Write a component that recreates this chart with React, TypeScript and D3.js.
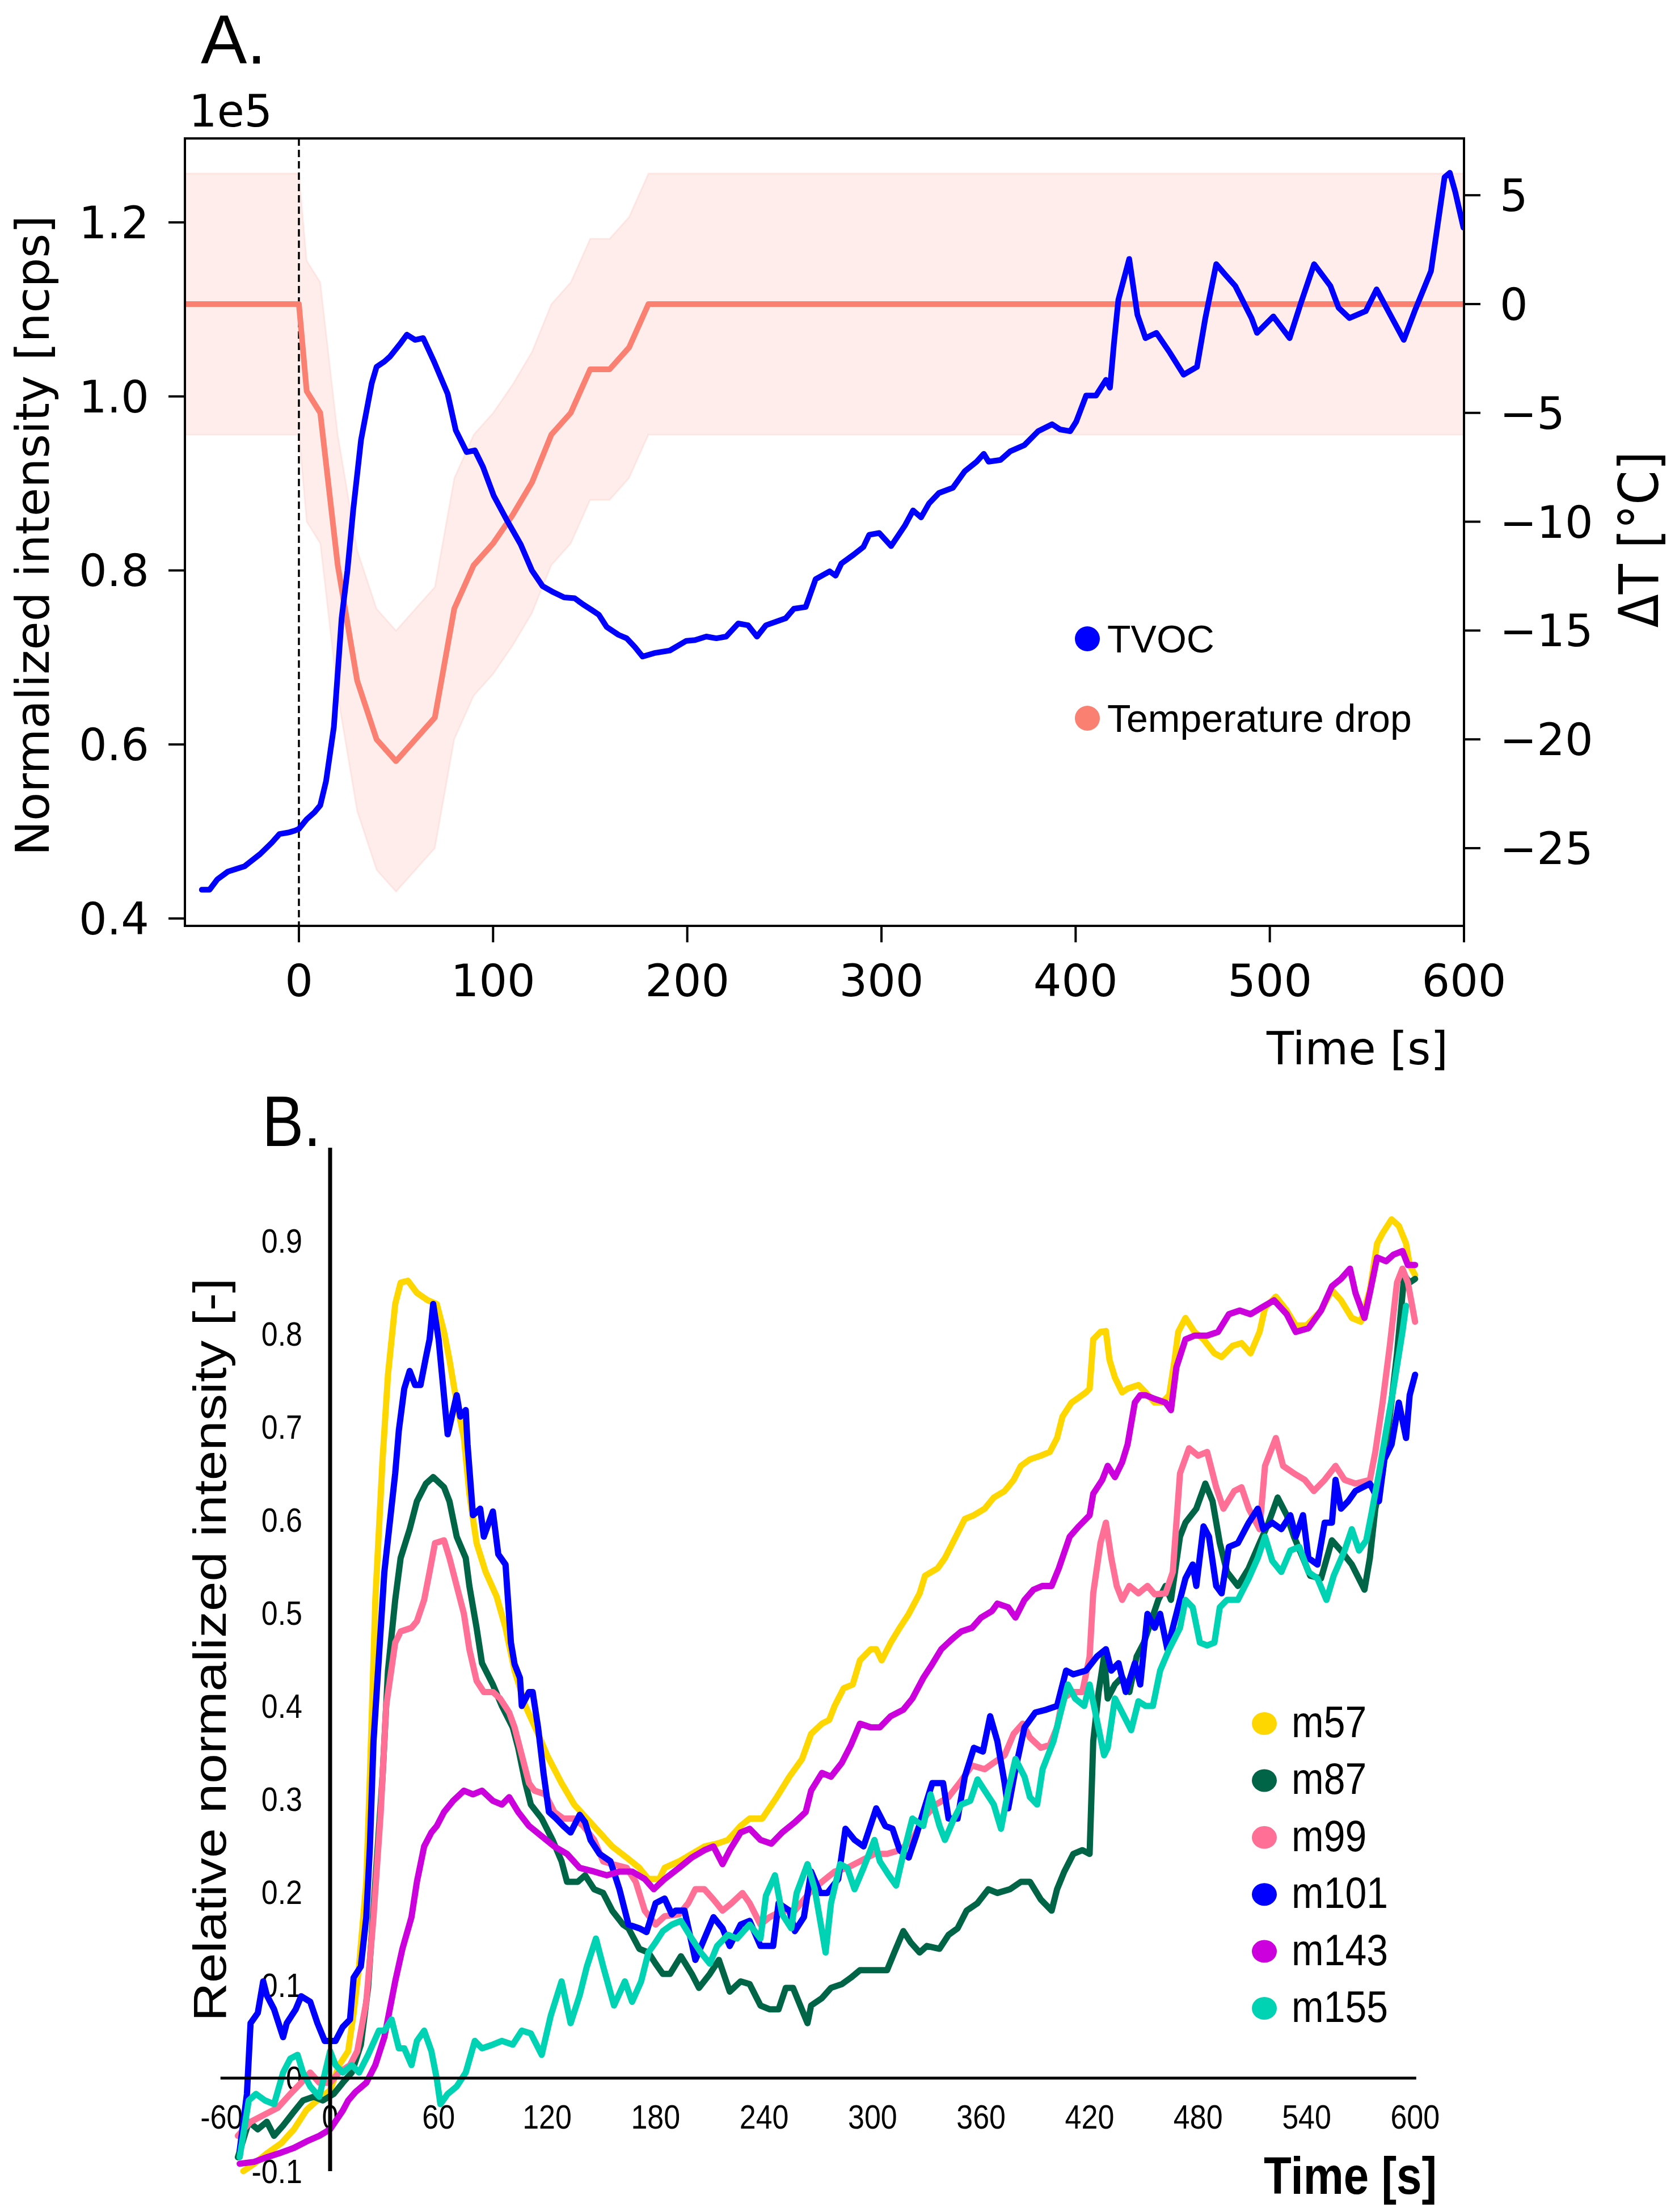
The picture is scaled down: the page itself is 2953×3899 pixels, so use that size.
import React from 'react'
import * as d3 from 'd3'

// ---------- panel A data ----------
// TVOC normalized intensity, [time s, value in 1e5 ncps]
const tvoc: [number, number][] = [
  [-50, 0.433], [-46, 0.433], [-42, 0.445], [-36.5, 0.454], [-28, 0.46], [-20, 0.474], [-14, 0.487],
  [-10, 0.497], [-5, 0.499], [-2, 0.501], [0, 0.503], [4, 0.514], [8, 0.522], [11, 0.53], [14, 0.558],
  [18, 0.62], [22, 0.745], [25, 0.8], [28, 0.87], [32, 0.95], [37.5, 1.015], [40, 1.034], [44, 1.04],
  [47, 1.046], [52, 1.06], [55.6, 1.071], [59.8, 1.065], [64, 1.067], [69.6, 1.04], [76.6, 1.003],
  [80.8, 0.961], [86.4, 0.936], [90.6, 0.938], [94.8, 0.919], [100.3, 0.886], [107.3, 0.857],
  [114.2, 0.83], [120, 0.8], [125.5, 0.782], [131, 0.775], [136.6, 0.769], [142, 0.768], [146.3, 0.761],
  [150.5, 0.755], [154.5, 0.749], [158.5, 0.735], [164.6, 0.726], [168.8, 0.722], [173, 0.712],
  [177, 0.701], [183, 0.705], [191, 0.708], [199.4, 0.719], [204, 0.72], [209.8, 0.724], [215, 0.722],
  [220, 0.724], [226.2, 0.739], [231.3, 0.737], [235.9, 0.724], [240.5, 0.737], [250.7, 0.745],
  [254.9, 0.756], [261, 0.758], [266.1, 0.79], [273.3, 0.799], [276.4, 0.794], [279.4, 0.808],
  [285.6, 0.818], [290.7, 0.827], [293.7, 0.841], [298.9, 0.843], [305, 0.828], [312.2, 0.852],
  [316.3, 0.869], [320.4, 0.861], [324.5, 0.877], [329.6, 0.889], [336.8, 0.895], [342.9, 0.914],
  [349, 0.925], [352.7, 0.934], [355.2, 0.925], [361.3, 0.927], [366.4, 0.937], [373.6, 0.944],
  [380.7, 0.96], [387.9, 0.968], [392, 0.962], [397.2, 0.96], [400.3, 0.971], [405.4, 1.001],
  [410.5, 1.001], [415.6, 1.019], [417.7, 1.01], [419.7, 1.06], [422, 1.111], [427.6, 1.158],
  [431.8, 1.094], [436, 1.067], [441.6, 1.073], [448.6, 1.05], [455.6, 1.025], [462.5, 1.034],
  [466.8, 1.09], [472.4, 1.152], [477, 1.14], [482.2, 1.127], [490.6, 1.09], [493.4, 1.073],
  [501.8, 1.092], [510.2, 1.067], [515.8, 1.106], [522.8, 1.152], [531.2, 1.127], [535.4, 1.102],
  [541, 1.09], [549.4, 1.098], [555, 1.123], [562, 1.094], [569, 1.065], [574.6, 1.098], [583, 1.144],
  [590, 1.252], [592.7, 1.257], [595.5, 1.235], [599.7, 1.194],
]

// temperature drop, [time s, dT °C]
const tempDrop: [number, number][] = [
  [-58.7, 0], [0, 0], [4, -4], [11, -5], [20, -12], [30, -17.3], [40, -20], [50, -21], [60, -20],
  [70, -19], [80, -14], [90, -12], [100, -11], [110, -9.7], [120, -8.2], [130, -6], [140, -5],
  [150, -3], [160, -3], [170, -2], [180, 0], [600, 0],
]
const TEMP_SD = 6

const tvocTicks = [0.4, 0.6, 0.8, 1.0, 1.2]
const dtTicks = [5, 0, -5, -10, -15, -20, -25]
const timeTicksA = [0, 100, 200, 300, 400, 500, 600]

// ---------- panel B data ----------
const m57: [number, number][] = [
  [-48, -0.1], [-42, -0.092], [-35, -0.081], [-27, -0.07], [-20, -0.055], [-13, -0.034], [-6, -0.022],
  [0, -0.013], [5, 0.014], [10, 0.029], [13, 0.07], [16, 0.12], [20, 0.211], [22, 0.324], [25, 0.514],
  [29, 0.665], [32, 0.756], [36, 0.832], [39, 0.855], [43, 0.857], [48, 0.844], [54, 0.836], [59, 0.832],
  [63, 0.802], [66, 0.772], [70, 0.726], [74, 0.688], [77, 0.628], [81, 0.575], [86, 0.544], [92, 0.518],
  [97, 0.484], [102, 0.438], [108, 0.4], [115, 0.37], [120, 0.347], [128, 0.317], [135, 0.294],
  [142, 0.279], [149, 0.264], [156, 0.249], [164, 0.237], [171, 0.226], [176, 0.214], [182, 0.214],
  [185, 0.226], [193, 0.233], [200, 0.241], [207, 0.249], [214, 0.252], [220, 0.256], [227, 0.271],
  [232, 0.279], [239, 0.279], [247, 0.302], [254, 0.324], [261, 0.343], [266, 0.37], [272, 0.381],
  [276, 0.385], [279, 0.4], [284, 0.419], [289, 0.423], [293, 0.449], [299, 0.461], [302, 0.461],
  [305, 0.449], [310, 0.468], [315, 0.484], [320, 0.499], [326, 0.521], [329, 0.54], [336, 0.548],
  [340, 0.559], [345, 0.578], [351, 0.601], [356, 0.605], [362, 0.612], [367, 0.624], [373, 0.631],
  [378, 0.643], [382, 0.658], [387, 0.665], [393, 0.669], [398, 0.673], [402, 0.688], [405, 0.711],
  [410, 0.726], [413, 0.73], [418, 0.737], [420, 0.741], [422, 0.794], [426, 0.802], [429, 0.803],
  [431, 0.772], [434, 0.753], [438, 0.737], [441, 0.741], [447, 0.745], [451, 0.737], [456, 0.726],
  [460, 0.726], [464, 0.734], [467, 0.772], [469, 0.802], [473, 0.817], [478, 0.802], [483, 0.794],
  [489, 0.779], [493, 0.775], [499, 0.787], [504, 0.79], [509, 0.779], [514, 0.802], [517, 0.828],
  [523, 0.84], [529, 0.825], [534, 0.809], [540, 0.809], [548, 0.825], [554, 0.847], [559, 0.836],
  [565, 0.817], [570, 0.813], [575, 0.847], [579, 0.897], [582, 0.908], [587, 0.923], [591, 0.916],
  [595, 0.897], [597, 0.874], [600, 0.863],
]
const m87: [number, number][] = [
  [-51, -0.085], [-45, -0.047], [-40, -0.055], [-35, -0.047], [-31, -0.062], [-26, -0.051], [-20, -0.036],
  [-15, -0.024], [-9, -0.02], [-4, -0.024], [2, -0.017], [7, -0.005], [12, 0.006], [17, 0.036], [21, 0.097],
  [25, 0.211], [29, 0.324], [32, 0.438], [36, 0.514], [39, 0.559], [44, 0.59], [48, 0.62], [53, 0.639],
  [57, 0.646], [63, 0.635], [66, 0.62], [70, 0.582], [75, 0.559], [77, 0.529], [81, 0.484], [84, 0.446],
  [90, 0.423], [95, 0.4], [101, 0.377], [104, 0.355], [108, 0.317], [111, 0.294], [117, 0.279],
  [123, 0.256], [128, 0.233], [131, 0.211], [137, 0.211], [141, 0.218], [146, 0.203], [151, 0.199],
  [156, 0.18], [162, 0.165], [165, 0.161], [171, 0.139], [176, 0.135], [180, 0.123], [184, 0.112],
  [188, 0.112], [194, 0.131], [200, 0.112], [204, 0.097], [210, 0.112], [215, 0.127], [221, 0.093],
  [227, 0.104], [232, 0.101], [238, 0.078], [243, 0.074], [248, 0.074], [252, 0.097], [256, 0.097],
  [260, 0.078], [264, 0.059], [266, 0.078], [272, 0.086], [277, 0.097], [283, 0.101], [288, 0.108],
  [293, 0.116], [301, 0.116], [308, 0.116], [312, 0.135], [317, 0.158], [321, 0.146], [326, 0.135],
  [330, 0.142], [337, 0.139], [342, 0.154], [347, 0.161], [352, 0.18], [358, 0.188], [364, 0.203],
  [369, 0.199], [376, 0.203], [382, 0.211], [387, 0.211], [393, 0.192], [399, 0.18], [402, 0.203],
  [406, 0.222], [411, 0.241], [416, 0.245], [420, 0.241], [422, 0.362], [425, 0.415], [428, 0.453],
  [430, 0.408], [434, 0.423], [438, 0.431], [442, 0.415], [446, 0.453], [450, 0.468], [454, 0.491],
  [458, 0.514], [462, 0.529], [465, 0.514], [470, 0.582], [473, 0.597], [479, 0.612], [484, 0.639],
  [488, 0.62], [492, 0.575], [496, 0.544], [502, 0.529], [508, 0.548], [514, 0.575], [519, 0.597],
  [524, 0.624], [529, 0.605], [533, 0.582], [538, 0.559], [542, 0.54], [548, 0.537], [554, 0.578],
  [559, 0.567], [565, 0.552], [572, 0.525], [575, 0.559], [578, 0.612], [582, 0.65], [586, 0.711],
  [590, 0.779], [594, 0.863], [597, 0.855], [600, 0.859],
]
const m99: [number, number][] = [
  [-51, -0.062], [-44, -0.047], [-36, -0.039], [-29, -0.032], [-22, -0.017], [-16, -0.005], [-11, 0.006],
  [-6, -0.005], [0, -0.005], [5, 0.006], [11, 0.014], [15, 0.029], [20, 0.082], [24, 0.173], [28, 0.286],
  [31, 0.4], [36, 0.468], [39, 0.48], [45, 0.484], [48, 0.491], [52, 0.514], [55, 0.544], [58, 0.575],
  [63, 0.578], [66, 0.559], [70, 0.529], [74, 0.499], [77, 0.461], [81, 0.427], [85, 0.415], [90, 0.415],
  [94, 0.408], [99, 0.393], [102, 0.377], [106, 0.347], [110, 0.317], [113, 0.309], [119, 0.305],
  [124, 0.286], [129, 0.279], [135, 0.279], [140, 0.271], [146, 0.256], [151, 0.233], [156, 0.23],
  [164, 0.226], [169, 0.211], [174, 0.18], [180, 0.165], [185, 0.174], [193, 0.176], [198, 0.188],
  [202, 0.203], [207, 0.203], [212, 0.192], [217, 0.18], [222, 0.188], [228, 0.199], [232, 0.188],
  [238, 0.165], [243, 0.173], [250, 0.18], [257, 0.18], [265, 0.199], [272, 0.211], [279, 0.222],
  [286, 0.226], [293, 0.233], [301, 0.241], [308, 0.241], [315, 0.245], [322, 0.256], [328, 0.279],
  [335, 0.294], [342, 0.302], [348, 0.317], [355, 0.336], [362, 0.332], [367, 0.339], [373, 0.347],
  [378, 0.37], [383, 0.381], [387, 0.366], [393, 0.355], [398, 0.358], [402, 0.377], [405, 0.408],
  [411, 0.415], [416, 0.415], [420, 0.453], [422, 0.521], [426, 0.575], [429, 0.597], [432, 0.559],
  [435, 0.529], [438, 0.514], [442, 0.529], [447, 0.521], [452, 0.529], [456, 0.52], [462, 0.521],
  [466, 0.544], [470, 0.65], [475, 0.677], [480, 0.669], [485, 0.673], [490, 0.635], [494, 0.612],
  [500, 0.631], [504, 0.635], [508, 0.612], [514, 0.59], [517, 0.658], [523, 0.688], [527, 0.658],
  [533, 0.65], [539, 0.643], [544, 0.631], [550, 0.643], [556, 0.658], [561, 0.643], [567, 0.639],
  [575, 0.643], [578, 0.673], [582, 0.726], [586, 0.787], [590, 0.855], [593, 0.87], [596, 0.855],
  [600, 0.813],
]
const m101: [number, number][] = [
  [-50, -0.078], [-46, -0.017], [-44, 0.059], [-40, 0.07], [-37, 0.104], [-35, 0.089], [-31, 0.074],
  [-26, 0.044], [-24, 0.059], [-19, 0.074], [-16, 0.088], [-11, 0.082], [-7, 0.059], [-3, 0.04], [3, 0.04],
  [7, 0.055], [11, 0.063], [13, 0.108], [17, 0.12], [20, 0.173], [22, 0.248], [24, 0.362], [27, 0.453],
  [30, 0.544], [36, 0.65], [38, 0.696], [41, 0.741], [44, 0.76], [47, 0.745], [50, 0.745], [53, 0.775],
  [55, 0.794], [57, 0.832], [60, 0.794], [65, 0.692], [66, 0.7], [70, 0.734], [72, 0.711], [75, 0.718],
  [76, 0.681], [79, 0.605], [83, 0.612], [85, 0.582], [90, 0.609], [93, 0.563], [97, 0.552], [100, 0.468],
  [102, 0.445], [105, 0.43], [106, 0.4], [110, 0.415], [112, 0.415], [115, 0.377], [118, 0.328],
  [121, 0.286], [125, 0.279], [129, 0.271], [133, 0.264], [138, 0.283], [141, 0.275], [144, 0.256],
  [149, 0.241], [155, 0.233], [160, 0.203], [165, 0.165], [171, 0.161], [175, 0.157], [180, 0.188],
  [185, 0.193], [189, 0.176], [191, 0.18], [196, 0.18], [202, 0.127], [207, 0.15], [212, 0.173],
  [217, 0.161], [221, 0.142], [227, 0.165], [232, 0.169], [238, 0.142], [245, 0.142], [248, 0.188],
  [254, 0.18], [257, 0.158], [262, 0.173], [266, 0.222], [271, 0.199], [275, 0.199], [281, 0.214],
  [285, 0.268], [290, 0.256], [295, 0.249], [302, 0.29], [307, 0.271], [311, 0.268], [315, 0.245],
  [320, 0.237], [324, 0.26], [328, 0.286], [333, 0.317], [339, 0.317], [342, 0.279], [347, 0.279],
  [351, 0.324], [356, 0.355], [361, 0.351], [365, 0.389], [369, 0.362], [373, 0.317], [375, 0.29],
  [379, 0.332], [384, 0.377], [390, 0.393], [396, 0.396], [402, 0.4], [407, 0.438], [411, 0.434],
  [418, 0.438], [424, 0.453], [429, 0.461], [432, 0.438], [436, 0.446], [440, 0.415], [445, 0.446],
  [448, 0.423], [452, 0.499], [456, 0.484], [459, 0.499], [463, 0.461], [468, 0.499], [473, 0.537],
  [477, 0.552], [479, 0.529], [483, 0.593], [486, 0.582], [490, 0.529], [493, 0.521], [497, 0.571],
  [502, 0.575], [508, 0.597], [513, 0.612], [516, 0.59], [521, 0.597], [526, 0.59], [531, 0.605],
  [534, 0.582], [538, 0.605], [541, 0.559], [546, 0.552], [550, 0.597], [554, 0.597], [556, 0.643],
  [559, 0.612], [563, 0.62], [567, 0.631], [571, 0.635], [575, 0.639], [580, 0.62], [583, 0.665],
  [587, 0.681], [591, 0.726], [595, 0.688], [597, 0.734], [600, 0.756],
]
const m143: [number, number][] = [
  [-50, -0.092], [-42, -0.09], [-35, -0.085], [-27, -0.08], [-20, -0.075], [-13, -0.068], [-6, -0.062],
  [0, -0.055], [7, -0.035], [10, -0.024], [14, -0.015], [20, -0.005], [25, 0.014], [30, 0.044], [36, 0.104],
  [40, 0.139], [45, 0.173], [48, 0.211], [52, 0.249], [56, 0.264], [59, 0.271], [63, 0.286], [68, 0.298],
  [74, 0.309], [79, 0.305], [84, 0.309], [90, 0.298], [95, 0.294], [99, 0.302], [104, 0.286], [110, 0.271],
  [117, 0.26], [124, 0.249], [131, 0.241], [138, 0.226], [146, 0.222], [153, 0.218], [160, 0.222],
  [167, 0.222], [174, 0.214], [179, 0.203], [185, 0.214], [193, 0.226], [200, 0.237], [207, 0.245],
  [212, 0.249], [217, 0.23], [221, 0.245], [227, 0.264], [232, 0.268], [238, 0.256], [244, 0.252],
  [250, 0.264], [257, 0.275], [263, 0.286], [266, 0.309], [272, 0.328], [277, 0.324], [283, 0.339],
  [288, 0.358], [293, 0.381], [299, 0.377], [304, 0.377], [310, 0.389], [317, 0.396], [322, 0.408],
  [328, 0.43], [333, 0.445], [338, 0.461], [344, 0.472], [349, 0.48], [355, 0.484], [360, 0.495],
  [366, 0.502], [369, 0.51], [375, 0.506], [379, 0.495], [384, 0.514], [389, 0.525], [394, 0.529],
  [399, 0.529], [403, 0.548], [409, 0.582], [414, 0.593], [420, 0.605], [422, 0.628], [427, 0.643],
  [430, 0.658], [434, 0.646], [438, 0.662], [441, 0.681], [445, 0.726], [448, 0.734], [451, 0.734],
  [456, 0.73], [462, 0.726], [465, 0.718], [468, 0.764], [473, 0.794], [478, 0.798], [485, 0.798],
  [491, 0.802], [497, 0.821], [503, 0.825], [509, 0.821], [515, 0.828], [522, 0.836], [529, 0.821],
  [534, 0.802], [541, 0.806], [548, 0.825], [554, 0.851], [559, 0.859], [564, 0.87], [567, 0.844],
  [572, 0.817], [575, 0.844], [579, 0.882], [584, 0.878], [588, 0.885], [593, 0.889], [596, 0.874],
  [600, 0.874],
]
const m155: [number, number][] = [
  [-50, -0.085], [-45, -0.024], [-41, -0.017], [-36, -0.024], [-31, -0.028], [-26, 0.006], [-22, 0.021],
  [-18, 0.025], [-15, 0.006], [-11, -0.009], [-6, -0.02], [0, 0.029], [3, 0.014], [7, 0.006], [12, 0.014],
  [16, 0.006], [21, 0.025], [27, 0.051], [30, 0.051], [34, 0.063], [38, 0.032], [41, 0.032], [45, 0.014],
  [48, 0.04], [52, 0.051], [56, 0.029], [59, -0.001], [61, -0.028], [65, -0.017], [70, -0.009], [75, 0.006],
  [80, 0.04], [84, 0.032], [90, 0.036], [95, 0.04], [101, 0.036], [106, 0.051], [111, 0.048], [117, 0.025],
  [122, 0.067], [128, 0.104], [133, 0.059], [138, 0.089], [142, 0.12], [147, 0.15], [151, 0.12],
  [157, 0.078], [163, 0.104], [167, 0.082], [172, 0.104], [176, 0.135], [180, 0.146], [184, 0.158],
  [189, 0.165], [194, 0.169], [200, 0.15], [205, 0.135], [210, 0.123], [214, 0.142], [220, 0.154],
  [225, 0.15], [232, 0.165], [238, 0.15], [241, 0.196], [246, 0.218], [250, 0.176], [255, 0.161],
  [258, 0.199], [264, 0.23], [268, 0.203], [272, 0.158], [274, 0.135], [277, 0.188], [282, 0.23],
  [286, 0.226], [290, 0.203], [295, 0.226], [301, 0.256], [304, 0.233], [309, 0.218], [313, 0.207],
  [317, 0.241], [322, 0.279], [328, 0.271], [332, 0.305], [337, 0.271], [340, 0.256], [345, 0.279],
  [349, 0.294], [354, 0.298], [358, 0.321], [362, 0.309], [367, 0.294], [371, 0.268], [375, 0.309],
  [379, 0.343], [384, 0.324], [387, 0.302], [391, 0.294], [394, 0.332], [400, 0.362], [404, 0.393],
  [408, 0.423], [412, 0.408], [417, 0.4], [420, 0.423], [424, 0.385], [428, 0.347], [430, 0.355],
  [434, 0.408], [438, 0.393], [443, 0.374], [447, 0.405], [451, 0.4], [455, 0.4], [459, 0.438],
  [464, 0.461], [470, 0.484], [473, 0.514], [477, 0.506], [481, 0.468], [485, 0.465], [489, 0.468],
  [492, 0.506], [496, 0.514], [502, 0.514], [508, 0.537], [513, 0.559], [517, 0.582], [521, 0.556],
  [526, 0.544], [531, 0.567], [536, 0.571], [541, 0.544], [546, 0.537], [551, 0.514], [555, 0.54],
  [561, 0.567], [565, 0.59], [569, 0.567], [573, 0.578], [576, 0.608], [580, 0.65], [584, 0.696],
  [588, 0.741], [593, 0.802], [595, 0.83],
]

const seriesNames = ['m57', 'm87', 'm99', 'm101', 'm143', 'm155']
const seriesData = [m57, m87, m99, m101, m143, m155]
const seriesColors = ['#ffd700', '#006446', '#ff6f96', '#0000ff', '#cc00dd', '#00d2b4']

const timeTicksB = [-60, 0, 60, 120, 180, 240, 300, 360, 420, 480, 540, 600]
const relTicks = [0.9, 0.8, 0.7, 0.6, 0.5, 0.4, 0.3, 0.2, 0.1, 0, -0.1]

const W = 2953
const H = 3899

const DEJAVU = 'DejaVu Sans'
const ARIAL = 'Liberation Sans, Arial, sans-serif'

export default function App() {
  // panel A scales
  const xA = d3.scaleLinear().domain([-58.7, 600]).range([326, 2581])
  const yA = d3.scaleLinear().domain([0.3915, 1.2965]).range([1632, 244])
  const yT = d3.scaleLinear().domain([-28.57, 7.61]).range([1632, 244])

  const tvocLine = d3.line<[number, number]>().x((d) => xA(d[0])).y((d) => yA(d[1]))
  const tempLine = d3.line<[number, number]>().x((d) => xA(d[0])).y((d) => yT(d[1]))
  const tempBand = d3
    .area<[number, number]>()
    .x((d) => xA(d[0]))
    .y0((d) => yT(d[1] - TEMP_SD))
    .y1((d) => yT(d[1] + TEMP_SD))

  // panel B scales
  const xB = d3.scaleLinear().domain([-60, 600]).range([390.7, 2494.8])
  const yB = d3.scaleLinear().domain([-0.1, 1.0]).range([3827, 2023])
  const lineB = d3.line<[number, number]>().x((d) => xB(d[0])).y((d) => yB(d[1]))

  const sy = 'scale(1,1.15)'
  const [a0, a1] = yA.range()

  return (
    <div style={{ position: 'absolute', left: 0, top: 0, background: '#fff' }}>
      <svg width={W} height={H} viewBox={`0 0 ${W} ${H}`} style={{ display: 'block' }}>
        <rect width={W} height={H} fill="#fff" />
        <defs>
          <clipPath id="clipA">
            <rect x={326} y={244} width={2581 - 326} height={1632 - 244} />
          </clipPath>
        </defs>

        {/* ---------- Panel A ---------- */}
        <text x={354} y={112} fontFamily={ARIAL} fontSize={122}>A.</text>
        <g clipPath="url(#clipA)">
          <path d={tempBand(tempDrop) ?? ''} fill="#fa8072" fillOpacity={0.14} stroke="#fa8072" strokeOpacity={0.12} strokeWidth={3} />
          <line x1={xA(0)} x2={xA(0)} y1={a1} y2={a0} stroke="#000" strokeWidth={3.5} strokeDasharray="13 7" />
          <path d={tempLine(tempDrop) ?? ''} fill="none" stroke="#fa8072" strokeWidth={10} strokeLinejoin="round" />
          <path d={tvocLine(tvoc) ?? ''} fill="none" stroke="#0000ff" strokeWidth={10} strokeLinejoin="round" strokeLinecap="round" />
        </g>
        <rect x={326} y={244} width={2581 - 326} height={1632 - 244} fill="none" stroke="#000" strokeWidth={4} />

        {tvocTicks.map((v) => (
          <g key={'ya' + v}>
            <line x1={297} x2={326} y1={yA(v)} y2={yA(v)} stroke="#000" strokeWidth={4} />
            <text x={263} y={yA(v) + 28} textAnchor="end" fontFamily={DEJAVU} fontSize={78}>{v.toFixed(1)}</text>
          </g>
        ))}
        {timeTicksA.map((t) => (
          <g key={'xa' + t}>
            <line x1={xA(t)} x2={xA(t)} y1={1632} y2={1661} stroke="#000" strokeWidth={4} />
            <text x={xA(t)} y={1756} textAnchor="middle" fontFamily={DEJAVU} fontSize={78}>{t}</text>
          </g>
        ))}
        {dtTicks.map((v) => (
          <g key={'yt' + v}>
            <line x1={2581} x2={2610} y1={yT(v)} y2={yT(v)} stroke="#000" strokeWidth={4} />
            <text x={2644} y={yT(v) + 28} fontFamily={DEJAVU} fontSize={78}>
              {v < 0 ? '\u2212' + Math.abs(v) : String(v)}
            </text>
          </g>
        ))}
        <text x={333} y={223} fontFamily={DEJAVU} fontSize={78}>1e5</text>
        <text transform="translate(86,944) rotate(-90)" textAnchor="middle" fontFamily={DEJAVU} fontSize={82}>
          Normalized intensity [ncps]
        </text>
        <text
          transform="translate(2923,951) rotate(-90)"
          textAnchor="middle"
          fontFamily={DEJAVU}
          fontSize={96}
          textLength={311}
          lengthAdjust="spacingAndGlyphs"
        >
          ΔT [°C]
        </text>
        <text x={2233} y={1876} fontFamily={DEJAVU} fontSize={80} textLength={320} lengthAdjust="spacingAndGlyphs">
          Time [s]
        </text>
        <circle cx={1917} cy={1126} r={22} fill="#0000ff" />
        <text x={1952} y={1150} fontFamily={ARIAL} fontSize={68}>TVOC</text>
        <circle cx={1917} cy={1266} r={22} fill="#fa8072" />
        <text x={1952} y={1290} fontFamily={ARIAL} fontSize={68}>Temperature drop</text>

        {/* ---------- Panel B ---------- */}
        <text transform={`translate(462,2020) ${sy}`} fontFamily={ARIAL} fontSize={110}>B.</text>
        {relTicks.map((v) => (
          <text key={'yb' + v} transform={`translate(533,${yB(v) + 21}) ${sy}`} textAnchor="end" fontFamily={ARIAL} fontSize={52}>
            {v === 0 ? '0' : v.toFixed(1)}
          </text>
        ))}
        {timeTicksB.map((t) => (
          <text key={'xb' + t} transform={`translate(${xB(t)},3752) ${sy}`} textAnchor="middle" fontFamily={ARIAL} fontSize={52}>
            {t}
          </text>
        ))}
        <text transform={`translate(398,2908) ${sy} rotate(-90)`} textAnchor="middle" fontFamily={ARIAL} fontSize={82}>
          Relative normalized intensity [-]
        </text>

        {seriesData.map((d, i) => (
          <path
            key={seriesNames[i]}
            d={lineB(d) ?? ''}
            fill="none"
            stroke={seriesColors[i]}
            strokeWidth={11}
            strokeLinejoin="round"
            strokeLinecap="round"
          />
        ))}

        <line x1={xB(-60) - 2} x2={xB(600) + 2} y1={yB(0)} y2={yB(0)} stroke="#000" strokeWidth={5} />
        <line x1={xB(0)} x2={xB(0)} y1={yB(1.0)} y2={yB(-0.1)} stroke="#000" strokeWidth={7} />

        {seriesNames.map((n, i) => {
          const cy = 3038 + i * 100.4
          return (
            <g key={'lg' + n}>
              <ellipse cx={2229} cy={cy} rx={22} ry={20} fill={seriesColors[i]} />
              <text transform={`translate(2277,${cy + 24}) ${sy}`} fontFamily={ARIAL} fontSize={68}>{n}</text>
            </g>
          )
        })}
        <text transform={`translate(2228,3867) ${sy}`} fontFamily={ARIAL} fontSize={80} fontWeight="bold">
          Time [s]
        </text>
      </svg>
    </div>
  )
}
